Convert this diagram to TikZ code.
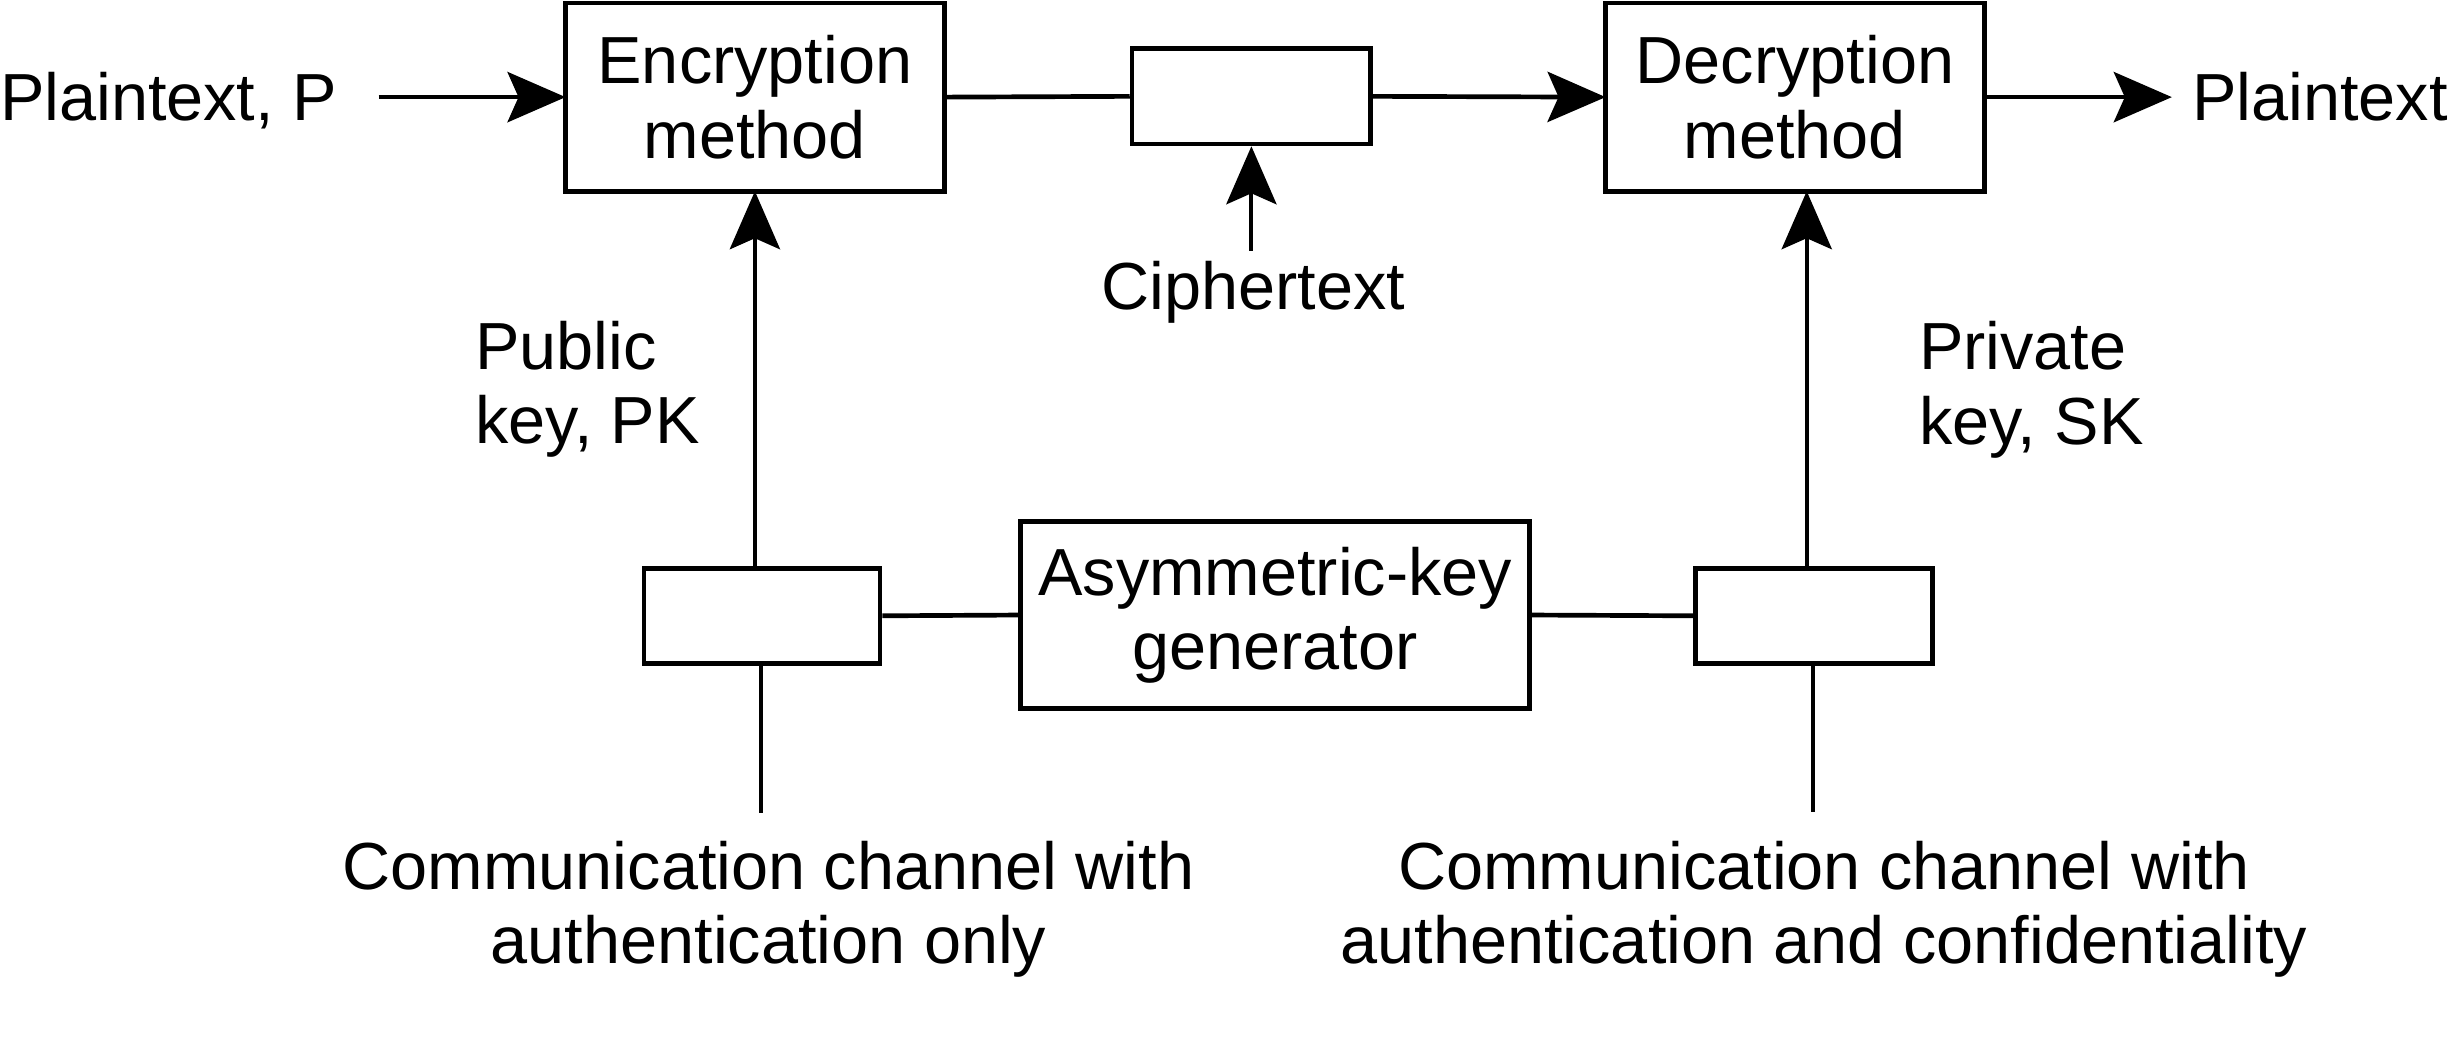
\documentclass[tikz,border=0pt]{standalone}
\usepackage{fontspec}
\setmainfont{Liberation Sans}
\usetikzlibrary{arrows.meta}
\begin{document}
\begin{tikzpicture}[x=0.01cm, y=-0.01cm,
  txt/.style={font=\fontsize{12.09pt}{13.47pt}\selectfont, inner sep=0pt, outer sep=0pt},
  bigbox/.style={draw, line width=0.85pt, txt, align=center, minimum width=2.415cm, minimum height=1.2cm},
  smallbox/.style={draw, line width=0.85pt, minimum width=1.51cm, minimum height=0.607cm, inner sep=0pt},
  thick line/.style={line width=0.85pt},
  thin line/.style={line width=0.7pt},
  arr/.style={-{Stealth[length=0.37cm, width=0.32cm, inset=0.07cm]}}
]
\useasboundingbox (0,0) rectangle (1568.6,665);

% top row
\node[txt, anchor=base west] (pin) at (0,77) {Plaintext, P};
\node[bigbox] (enc) at (481.75,62) {Encryption\\method};
\node[smallbox, minimum width=1.522cm] (cbox) at (798.6,61.5) {};
\node[bigbox] (dec) at (1145.45,62) {Decryption\\method};
\node[txt, anchor=base west] (pout) at (1399,77) {Plaintext};
\node[txt, anchor=base] (ctext) at (800,197.8) {Ciphertext};

% key labels
\node[txt, align=left, anchor=west] (pk) at (303.3,248.4) {Public\\key, PK};
\node[txt, align=left, anchor=west] (sk) at (1224.7,248.7) {Private\\key, SK};

% bottom row
\node[smallbox, minimum width=1.505cm] (lbox) at (486.25,393) {};
\node[bigbox, minimum width=3.245cm, minimum height=1.19cm] (gen) at (813.75,392.5) {Asymmetric-key\\generator};
\node[smallbox] (rbox) at (1157.5,393) {};

% channel labels
\node[txt, align=center] (lch) at (490.5,580.5) {Communication channel with\\authentication only};
\node[txt, align=center] (rch) at (1164,580.5) {Communication channel with\\authentication and confidentiality};

\coordinate (lbot) at (485.5,519);
\coordinate (rbot) at (1157,518);
\coordinate (rk) at ([xshift=-0.045cm]rbox.north);

% connectors
\draw[thick line, arr, shorten <=0.265cm] (enc.west -| pin.east) -- (enc.west);
\draw[thick line] (enc.east) -- (cbox.west);
\draw[thick line, arr] (cbox.east) -- (dec.west);
\draw[thick line, arr, shorten >=0.13cm] (dec.east) -- (dec.east -| pout.west);
\draw[thin line, arr, shorten <=0.07cm] (cbox.south |- ctext.north) -- (cbox.south);

\draw[thin line, arr] (lbox.north -| enc.south) -- (enc.south);
\draw[thin line, arr] (rk) -- (rk |- dec.south);

\draw[thick line] (lbox.east) -- (gen.west);
\draw[thick line] (gen.east) -- (rbox.west);

\draw[thin line] (lbox.south -| lbot) -- (lbot);
\draw[thin line] (rbox.south -| rbot) -- (rbot);
\end{tikzpicture}
\end{document}
